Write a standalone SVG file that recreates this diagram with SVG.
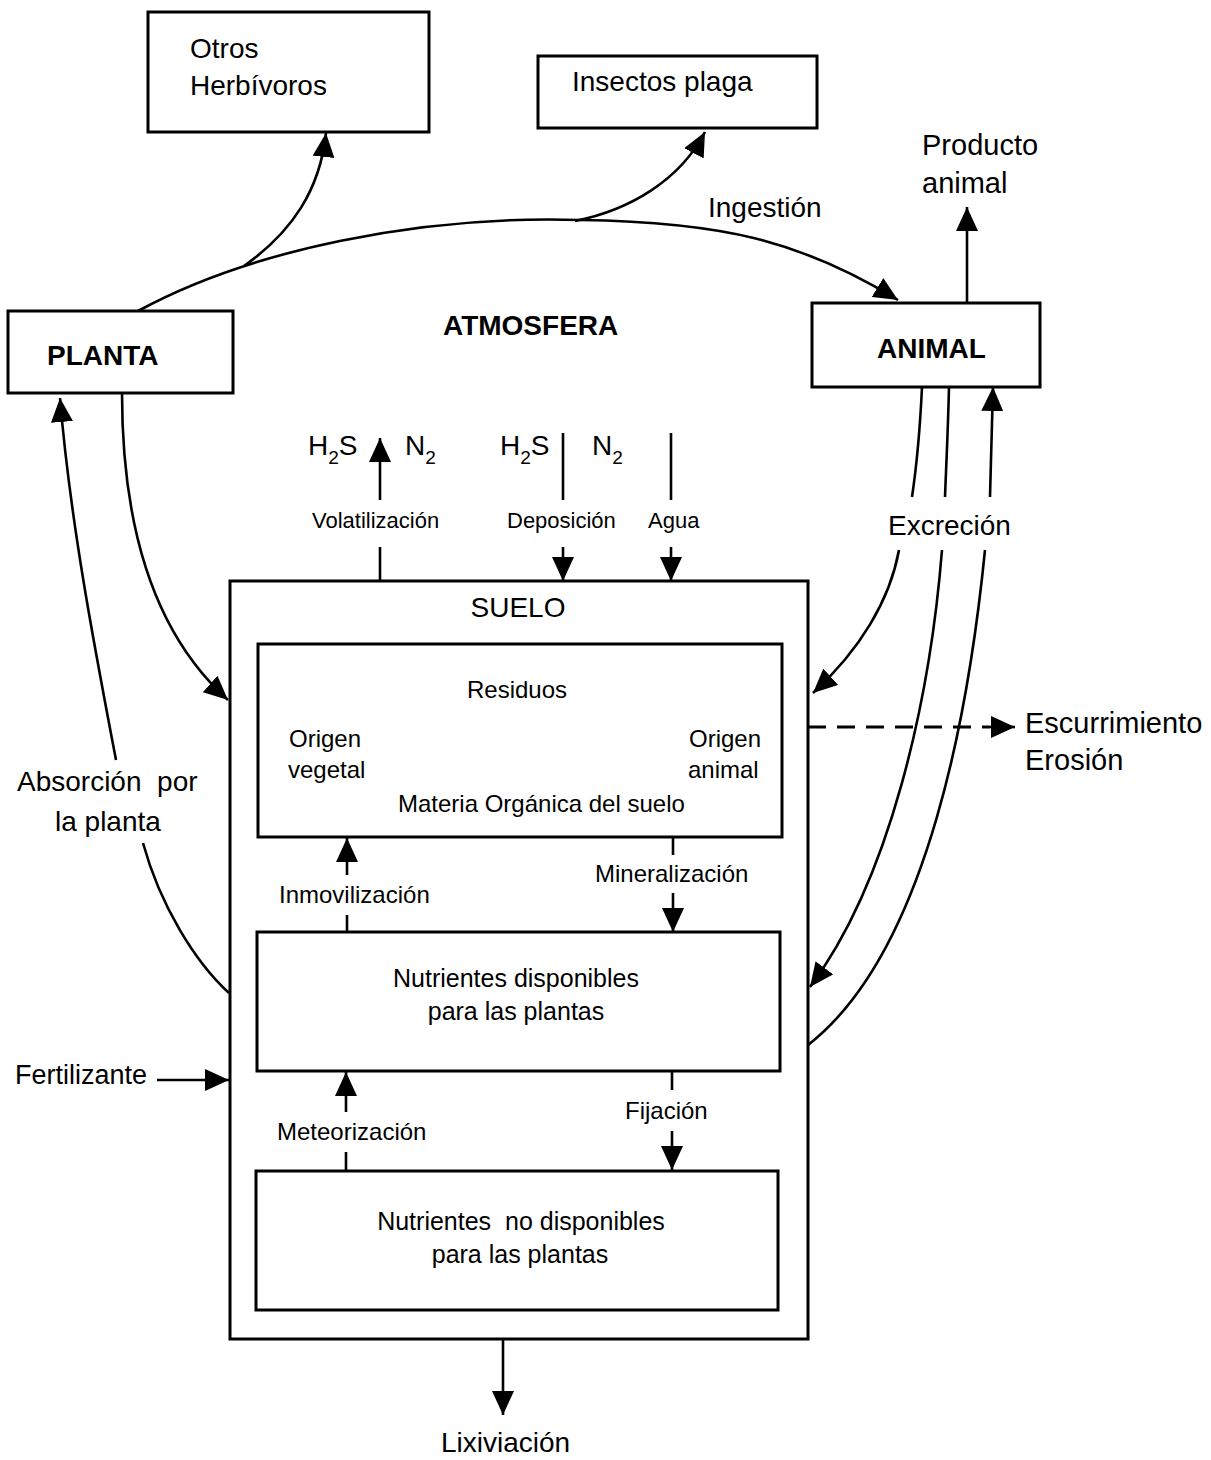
<svg xmlns="http://www.w3.org/2000/svg" width="1211" height="1460" viewBox="0 0 1211 1460">
<style>
text{font-family:"Liberation Sans",Arial,sans-serif;fill:#000}
.t28{font-size:28px}
.t29{font-size:29px}
.t24{font-size:24px}
.t22{font-size:22px}
.b{font-weight:bold}
.box{fill:#fff;stroke:#000;stroke-width:3}
.ln{fill:none;stroke:#000;stroke-width:2.6}
.dash{fill:none;stroke:#000;stroke-width:3;stroke-dasharray:18 11}
</style>
<defs>
<marker id="ah" viewBox="0 0 24 22" refX="24" refY="11" markerWidth="24" markerHeight="22" markerUnits="userSpaceOnUse" orient="auto">
<path d="M0,0 L24,11 L0,22 Z" fill="#000"/>
</marker>
</defs>

<g id="suelo">
<rect class="box" x="230" y="581" width="578" height="758"/>
<text class="t28" x="518" y="617" text-anchor="middle">SUELO</text>
</g>

<g id="otros-herbivoros">
<rect class="box" x="148" y="12" width="281" height="120"/>
<text class="t28" x="190" y="58">Otros</text>
<text class="t28" x="190" y="95">Herbívoros</text>
</g>

<g id="insectos-plaga">
<rect class="box" x="538" y="56" width="279" height="72"/>
<text class="t28" x="572" y="91">Insectos plaga</text>
</g>

<g id="planta">
<rect class="box" x="8" y="311" width="225" height="82"/>
<text class="t28 b" x="47" y="365">PLANTA</text>
</g>

<g id="animal">
<rect class="box" x="812" y="303" width="228" height="84"/>
<text class="t28 b" x="877" y="358">ANIMAL</text>
</g>

<g id="atmosfera">
<text class="t28 b" x="443" y="335">ATMOSFERA</text>
</g>

<g id="producto-animal">
<text class="t29" x="922" y="155">Producto</text>
<text class="t29" x="922" y="193">animal</text>
</g>

<g id="materia-organica">
<rect class="box" x="258" y="644" width="524" height="193"/>
<text class="t24" x="517" y="698" text-anchor="middle">Residuos</text>
<text class="t24" x="289" y="747">Origen</text>
<text class="t24" x="288" y="778">vegetal</text>
<text class="t24" x="689" y="747">Origen</text>
<text class="t24" x="688" y="778">animal</text>
<text class="t24" x="398" y="812">Materia Orgánica del suelo</text>
</g>

<g id="nutrientes-disponibles">
<rect class="box" x="257" y="932" width="523" height="139"/>
<text class="t24" x="516" y="987" text-anchor="middle" style="font-size:25px">Nutrientes disponibles</text>
<text class="t24" x="516" y="1020" text-anchor="middle" style="font-size:25px">para las plantas</text>
</g>

<g id="nutrientes-no-disponibles">
<rect class="box" x="256" y="1171" width="522" height="139"/>
<text class="t24" x="521" y="1230" text-anchor="middle" xml:space="preserve" style="font-size:25px">Nutrientes  no disponibles</text>
<text class="t24" x="520" y="1263" text-anchor="middle" style="font-size:25px">para las plantas</text>
</g>

<g id="connectors">
<!-- ingestion -->
<path class="ln" d="M138,311 C250,250 420,215 580,220 C720,222 800,240 898,300" marker-end="url(#ah)"/>
<path class="ln" d="M244,266 C292,232 320,190 326,133" marker-end="url(#ah)"/>
<path class="ln" d="M575,221 C630,210 680,180 705,132" marker-end="url(#ah)"/>
<path class="ln" d="M967,303 L967,207" marker-end="url(#ah)"/>
<!-- planta to suelo -->
<path class="ln" d="M122,393 C122,520 150,630 228,700" marker-end="url(#ah)"/>
<!-- absorcion -->
<path class="ln" d="M229,993 C195,962 160,905 143,843"/>
<path class="ln" d="M116,760 C95,650 70,520 60,398" marker-end="url(#ah)"/>
<!-- fertilizante -->
<path class="ln" d="M157,1080 L229,1080" marker-end="url(#ah)"/>
<!-- animal excretion -->
<path class="ln" d="M922,387 C920,430 916,470 912,497"/>
<path class="ln" d="M899,550 C890,600 860,650 813,693" marker-end="url(#ah)"/>
<path class="ln" d="M949,387 C948,430 946,470 945,497"/>
<path class="ln" d="M942,550 C930,700 890,880 810,987" marker-end="url(#ah)"/>
<path class="ln" d="M990,497 C991,460 992,420 993,387" marker-end="url(#ah)"/>
<path class="ln" d="M985,550 C970,700 930,950 808,1045"/>
<!-- escurrimiento -->
<path class="dash" d="M808,727 L990,727"/>
<path class="ln" d="M990,727 L1015,727" marker-end="url(#ah)"/>
<!-- atmosphere exchanges -->
<path class="ln" d="M380,581 L380,547"/>
<path class="ln" d="M380,500 L380,438" marker-end="url(#ah)"/>
<path class="ln" d="M563,433 L563,500"/>
<path class="ln" d="M563,547 L563,581" marker-end="url(#ah)"/>
<path class="ln" d="M671,433 L671,500"/>
<path class="ln" d="M671,547 L671,581" marker-end="url(#ah)"/>
<!-- inner soil flows -->
<path class="ln" d="M347,932 L347,915"/>
<path class="ln" d="M347,875 L347,838" marker-end="url(#ah)"/>
<path class="ln" d="M673,837 L673,855"/>
<path class="ln" d="M673,893 L673,932" marker-end="url(#ah)"/>
<path class="ln" d="M346,1171 L346,1152"/>
<path class="ln" d="M346,1112 L346,1072" marker-end="url(#ah)"/>
<path class="ln" d="M672,1071 L672,1090"/>
<path class="ln" d="M672,1131 L672,1170" marker-end="url(#ah)"/>
<!-- lixiviacion -->
<path class="ln" d="M503,1339 L503,1415" marker-end="url(#ah)"/>
</g>

<g id="labels">
<text class="t28" x="708" y="217">Ingestión</text>
<text class="t28" x="308" y="455">H<tspan style="font-size:19px" dy="9">2</tspan><tspan dy="-9">S</tspan></text>
<text class="t28" x="405" y="455">N<tspan style="font-size:19px" dy="9">2</tspan></text>
<text class="t28" x="500" y="455">H<tspan style="font-size:19px" dy="9">2</tspan><tspan dy="-9">S</tspan></text>
<text class="t28" x="592" y="455">N<tspan style="font-size:19px" dy="9">2</tspan></text>
<text class="t22" x="312" y="528">Volatilización</text>
<text class="t22" x="507" y="528">Deposición</text>
<text class="t22" x="648" y="528">Agua</text>
<text class="t24" x="279" y="903">Inmovilización</text>
<text class="t24" x="595" y="882">Mineralización</text>
<text class="t24" x="277" y="1140">Meteorización</text>
<text class="t24" x="625" y="1119">Fijación</text>
<text class="t28" x="441" y="1452">Lixiviación</text>
<text class="t28" x="17" y="791" xml:space="preserve">Absorción  por</text>
<text class="t28" x="55" y="831">la planta</text>
<text class="t28" x="15" y="1084" style="font-size:27px">Fertilizante</text>
<text class="t28" x="888" y="535">Excreción</text>
<text class="t29" x="1025" y="733">Escurrimiento</text>
<text class="t29" x="1025" y="770">Erosión</text>
</g>
</svg>
